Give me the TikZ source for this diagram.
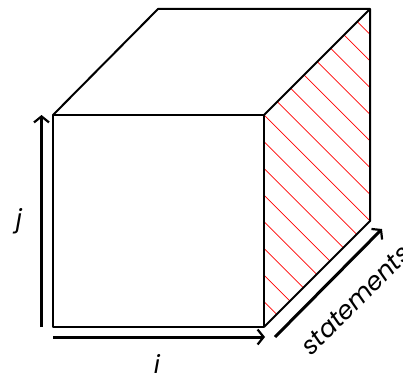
\documentclass[tikz,border=0pt]{standalone}
\usepackage{fontspec}
\setmainfont{Poppins}
\usetikzlibrary{arrows.meta}
\tikzset{
  edge/.style={line width=2pt, line join=round},
  hatch/.style={red, line width=0.7pt},
  axis/.style={line width=3pt, -{Straight Barb[length=6pt,width=15pt,line width=2.2pt]}},
  lbl/.style={font=\fontsize{25}{27}\selectfont\itshape, inner sep=0pt}
}
\begin{document}
\begin{tikzpicture}[x=1pt,y=-1pt]
\useasboundingbox (0,0) rectangle (403,377);
% cube corners
\coordinate (FTL) at (53,115);
\coordinate (FTR) at (264,115);
\coordinate (FBR) at (264,327);
\coordinate (FBL) at (53,327);
\coordinate (BTL) at (158,9);
\coordinate (BTR) at (370,9);
\coordinate (BBR) at (370,221);
% hatching on right face
\begin{scope}
  \clip (FTR) -- (BTR) -- (BBR) -- (FBR) -- cycle;
  \foreach \k in {-8,...,8}{
    \draw[hatch] (264,115+\k*26.67) -- ++(106,106);
  }
\end{scope}
% faces
\draw[edge] (FTL) -- (FTR) -- (FBR) -- (FBL) -- cycle;
\draw[edge] (FTL) -- (BTL) -- (BTR) -- (FTR);
\draw[edge] (BTR) -- (BBR) -- (FBR);
% axes
\coordinate (jS) at (41.5,327);
\coordinate (jE) at (41.5,115);
\coordinate (iS) at (53,337);
\coordinate (iE) at (265,337);
\coordinate (sS) at (275,337);
\coordinate (sE) at (382,229);
\draw[axis] (jS) -- (jE);
\draw[axis] (iS) -- (iE);
\draw[axis] (sS) -- (sE);
% labels
\node[lbl] (jL) at (19,221) {j};
\node[lbl] (iL) at (157,364) {i};
\node[lbl, rotate=45] (sL) at (356,300) {statements};
\end{tikzpicture}
\end{document}
